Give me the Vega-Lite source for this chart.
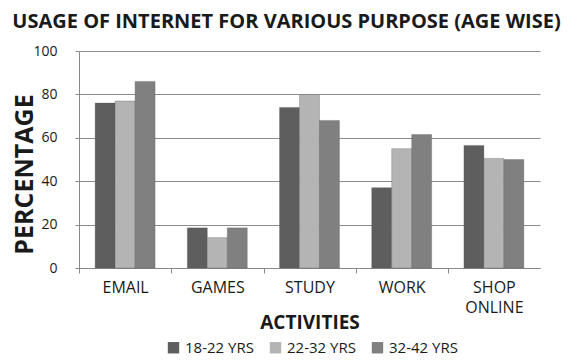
{
  "$schema": "https://vega.github.io/schema/vega-lite/v6.json",
  "width": 461,
  "height": 217,
  "autosize": {"type": "none"},
  "padding": {"left": 79, "top": 51, "right": 40, "bottom": 94},
  "background": "white",
  "title": {
    "text": "USAGE OF INTERNET FOR VARIOUS PURPOSE (AGE WISE)",
    "font": "Open Sans",
    "fontSize": 20,
    "fontWeight": "bold",
    "color": "#1a1a1a",
    "anchor": "middle",
    "dx": -23,
    "offset": 12
  },
  "data": {
    "values": [
      {"activity": "EMAIL", "age": "18-22 YRS", "value": 76},
      {"activity": "EMAIL", "age": "22-32 YRS", "value": 77},
      {"activity": "EMAIL", "age": "32-42 YRS", "value": 86},
      {"activity": "GAMES", "age": "18-22 YRS", "value": 18.5},
      {"activity": "GAMES", "age": "22-32 YRS", "value": 14},
      {"activity": "GAMES", "age": "32-42 YRS", "value": 18.5},
      {"activity": "STUDY", "age": "18-22 YRS", "value": 74},
      {"activity": "STUDY", "age": "22-32 YRS", "value": 80},
      {"activity": "STUDY", "age": "32-42 YRS", "value": 68},
      {"activity": "WORK", "age": "18-22 YRS", "value": 37},
      {"activity": "WORK", "age": "22-32 YRS", "value": 55},
      {"activity": "WORK", "age": "32-42 YRS", "value": 61.5},
      {"activity": "SHOP ONLINE", "age": "18-22 YRS", "value": 56.5},
      {"activity": "SHOP ONLINE", "age": "22-32 YRS", "value": 50.5},
      {"activity": "SHOP ONLINE", "age": "32-42 YRS", "value": 50}
    ]
  },
  "mark": {"type": "bar", "stroke": "#555555", "strokeWidth": 0.6, "strokeOpacity": 0.5},
  "encoding": {
    "x": {
      "field": "activity",
      "type": "nominal",
      "sort": ["EMAIL", "GAMES", "STUDY", "WORK", "SHOP ONLINE"],
      "scale": {"paddingInner": 0.35, "paddingOuter": 0.175},
      "axis": {
        "title": "ACTIVITIES",
        "titleFont": "Open Sans",
        "titleFontSize": 19,
        "titleFontWeight": "bold",
        "titleColor": "#1a1a1a",
        "titleBaseline": "alphabetic",
        "titleY": 60,
        "labelFont": "Open Sans",
        "labelFontSize": 16,
        "labelColor": "#1a1a1a",
        "labelAngle": 0,
        "labelPadding": 6,
        "labelExpr": "datum.label == 'SHOP ONLINE' ? ['SHOP', 'ONLINE'] : datum.label",
        "labelLineHeight": 20,
        "tickOffset": -46,
        "labelOffset": 46,
        "tickSize": 5,
        "tickColor": "#888888",
        "domainColor": "#888888",
        "grid": false
      }
    },
    "xOffset": {
      "field": "age",
      "type": "nominal",
      "scale": {"paddingInner": 0, "paddingOuter": 0}
    },
    "y": {
      "field": "value",
      "type": "quantitative",
      "scale": {"domain": [0, 100]},
      "axis": {
        "title": "PERCENTAGE",
        "titleFont": "Open Sans",
        "titleFontSize": 25,
        "titleFontWeight": "bold",
        "titleColor": "#1a1a1a",
        "titleBaseline": "middle",
        "titleX": -55,
        "titleY": 123,
        "values": [0, 20, 40, 60, 80, 100],
        "labelFont": "Open Sans",
        "labelFontSize": 14,
        "labelColor": "#1a1a1a",
        "labelPadding": 18,
        "tickSize": 4,
        "tickColor": "#888888",
        "domainColor": "#888888",
        "gridColor": "#8c8c8c",
        "gridWidth": 1.2
      }
    },
    "color": {
      "field": "age",
      "type": "nominal",
      "scale": {"range": ["#5e5e5e", "#b4b4b4", "#808080"]},
      "legend": {
        "title": null,
        "orient": "none",
        "legendX": 87,
        "legendY": 289,
        "direction": "horizontal",
        "symbolType": "square",
        "symbolSize": 130,
        "symbolStrokeWidth": 0,
        "labelFont": "Open Sans",
        "labelFontSize": 15,
        "labelColor": "#1a1a1a",
        "columnPadding": 14
      }
    }
  },
  "config": {"view": {"stroke": null}}
}
